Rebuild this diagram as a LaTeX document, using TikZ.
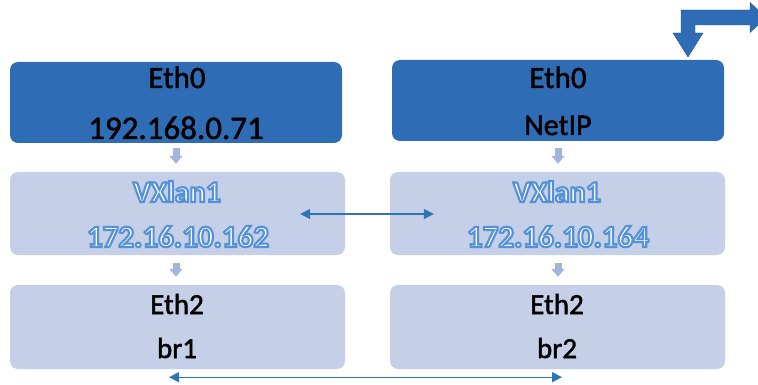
\documentclass[tikz,border=0pt]{standalone}
\usepackage{fontspec}
\setmainfont{Carlito}
\usetikzlibrary{arrows.meta,calc}
\definecolor{darkbox}{HTML}{2E6DB5}
\definecolor{lightbox}{HTML}{C5D0E8}
\definecolor{smallarr}{HTML}{A3B5DD}
\definecolor{linkblue}{HTML}{2E75B6}
\newcommand\oltext[1]{%
  \textcolor{white}{\special{pdf:code 0.33 0.57 0.84 RG 2.1 w 2 Tr}#1\special{pdf:code 0 Tr 0.4 w}}}
\newcommand\hvtext[1]{%
  \special{pdf:code 0 0 0 RG 0.5 w 2 Tr}#1\special{pdf:code 0 Tr 0.4 w}}
\tikzset{
  darkrect/.style={rectangle, rounded corners=8pt, fill=darkbox, draw=none, inner sep=0pt, minimum width=332pt, minimum height=81pt},
  lightrect/.style={rectangle, rounded corners=8pt, fill=lightbox, draw=none, inner sep=0pt, minimum width=335pt, minimum height=84pt},
  lbl/.style={anchor=base, inner sep=0pt, text=black},
  smallarrow/.style={draw=smallarr, line width=7pt, -{Triangle[width=13pt,length=8pt]}},
  linkarrow/.style={draw=linkblue, line width=1.4pt, {Triangle[width=10pt,length=10pt]}-{Triangle[width=10pt,length=10pt]}},
}
\begin{document}
\begin{tikzpicture}[x=1pt,y=-1pt]
\useasboundingbox (0,0) rectangle (758,385);
\clip (0,0) rectangle (758,385);
% boxes
\node[darkrect] (tl) at (176,102.5) {};
\node[darkrect] (tr) at (558,100.5) {};
\node[lightrect, minimum height=83pt] (vl) at (177.5,213.5) {};
\node[lightrect, minimum height=83pt] (vr) at (557.5,213.5) {};
\node[lightrect] (el) at (177.5,327) {};
\node[lightrect] (er) at (557.5,327) {};
% texts
\node[lbl, font=\fontsize{31}{31}\selectfont] (tlA) at (177,88) {\hvtext{Eth0}};
\node[lbl, font=\fontsize{33}{33}\selectfont] (tlB) at (176,139) {\hvtext{192.168.0.71}};
\node[lbl, font=\fontsize{31}{31}\selectfont] (trA) at (558,88) {\hvtext{Eth0}};
\node[lbl, font=\fontsize{30}{30}\selectfont] (trB) at (558,135) {\hvtext{NetIP}};
\node[lbl, font=\fontsize{30}{30}\selectfont\bfseries] (vlA) at (177,202) {\oltext{VXlan1}};
\node[lbl, font=\fontsize{31}{31}\selectfont\bfseries] (vlB) at (178,247) {\oltext{172.16.10.162}};
\node[lbl, font=\fontsize{30}{30}\selectfont\bfseries] (vrA) at (557,202) {\oltext{VXlan1}};
\node[lbl, font=\fontsize{31}{31}\selectfont\bfseries] (vrB) at (558,247) {\oltext{172.16.10.164}};
\node[lbl, font=\fontsize{29}{29}\selectfont] (elA) at (177,314) {\hvtext{Eth2}};
\node[lbl, font=\fontsize{29}{29}\selectfont] (elB) at (177,358) {\hvtext{br1}};
\node[lbl, font=\fontsize{29}{29}\selectfont] (erA) at (557,314) {\hvtext{Eth2}};
\node[lbl, font=\fontsize{29}{29}\selectfont] (erB) at (557,358) {\hvtext{br2}};
% small down arrows
\draw[smallarrow] ($(tl.south)+(0,5)$) -- ($(tl.south|-vl.north)+(0,-8)$);
\draw[smallarrow] ($(tr.south)+(0,7)$) -- ($(tr.south|-vr.north)+(0,-8)$);
\draw[smallarrow] ($(vl.south)+(-1.5,8)$) -- ($(vl.south|-el.north)+(-1.5,-8)$);
\draw[smallarrow] ($(vr.south)+(0.5,8)$) -- ($(vr.south|-er.north)+(0.5,-8)$);
% links
\draw[linkarrow] ($(vl.east)+(-45,0.5)$) -- ($(vr.west)+(44,0.5)$);
\draw[linkarrow] ($(el.south)+(-8.5,8)$) -- ($(er.south)+(4.5,8)$);
% bent arrow
\fill[darkbox, draw=darkbox!80!black, line width=0.4pt]
  (681,33) -- (681,10) -- (750,10) -- (750,2.5) -- (766,17.5) -- (750,32.5)
  -- (750,25) -- (695,25) -- (695,33) -- (703,33) -- (688,57) -- (673,33) -- cycle;
\end{tikzpicture}
\end{document}
